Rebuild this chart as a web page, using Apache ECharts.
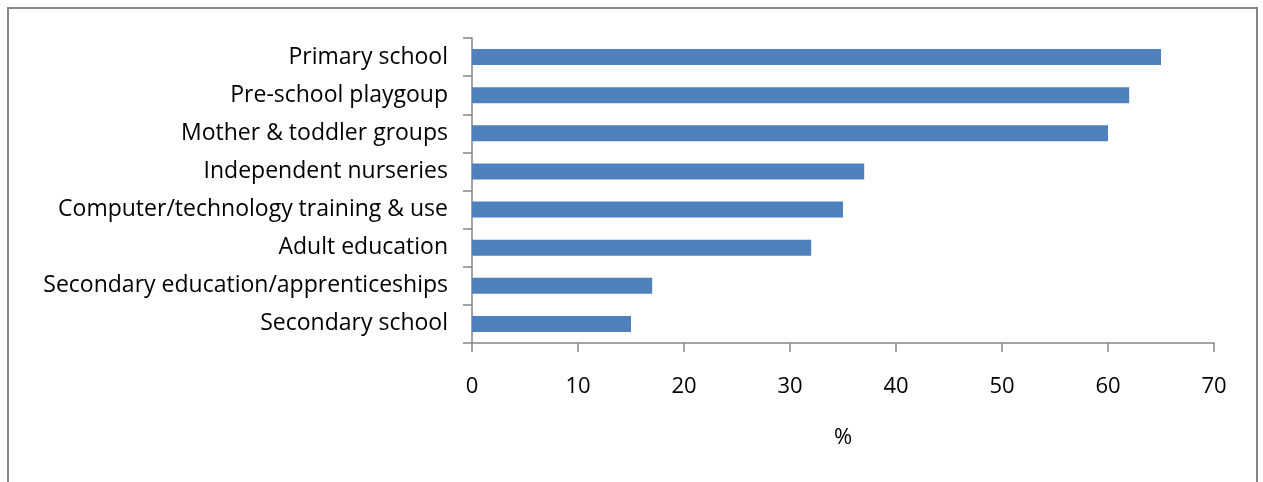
<!DOCTYPE html>
<html><head><meta charset="utf-8">
<script src="https://cdn.jsdelivr.net/npm/echarts@6/dist/echarts.min.js"></script>
<style>html,body{margin:0;padding:0;background:#fff;}#c{width:1263px;height:482px;}</style>
</head><body><div id="c"></div>
<script>
var categories = ["Primary school","Pre-school playgoup","Mother & toddler groups","Independent nurseries","Computer/technology training & use","Adult education","Secondary education/apprenticeships","Secondary school"];
var values = [65, 62, 60, 37, 35, 32, 17, 15];
var xTicks = [0, 10, 20, 30, 40, 50, 60, 70];
var chart = echarts.init(document.getElementById('c'));
var font = "'Open Sans', 'Noto Sans', sans-serif";
chart.setOption({
  animation: false,
  graphic: [{type:'rect', shape:{x:8,y:8,width:1249,height:490}, style:{fill:'none', stroke:'#868686', lineWidth:2}}],
  grid: {left: 472, right: 49, top: 38, bottom: 139},
  xAxis: {
    type: 'value', min: xTicks[0], max: xTicks[xTicks.length-1], interval: 10,
    name: '%', nameLocation: 'middle', nameGap: 84,
    nameTextStyle: {fontFamily: font, fontSize: 22, color: '#000'},
    axisLine: {show: true, lineStyle: {color: '#868686', width: 1.5}},
    axisTick: {show: true, length: 9, lineStyle: {color: '#868686', width: 1.5}},
    axisLabel: {fontFamily: font, fontSize: 22, color: '#000', margin: 33},
    splitLine: {show: false}
  },
  yAxis: {
    type: 'category', data: categories, inverse: true,
    axisLine: {show: true, lineStyle: {color: '#868686', width: 1.5}},
    axisTick: {show: true, length: 9, alignWithLabel: false, lineStyle: {color: '#868686', width: 1.5}},
    axisLabel: {fontFamily: font, fontSize: 23, color: '#000', margin: 24}
  },
  series: [{type: 'bar', data: values, barWidth: 16, itemStyle: {color: '#4F81BD'}}]
});
</script></body></html>
